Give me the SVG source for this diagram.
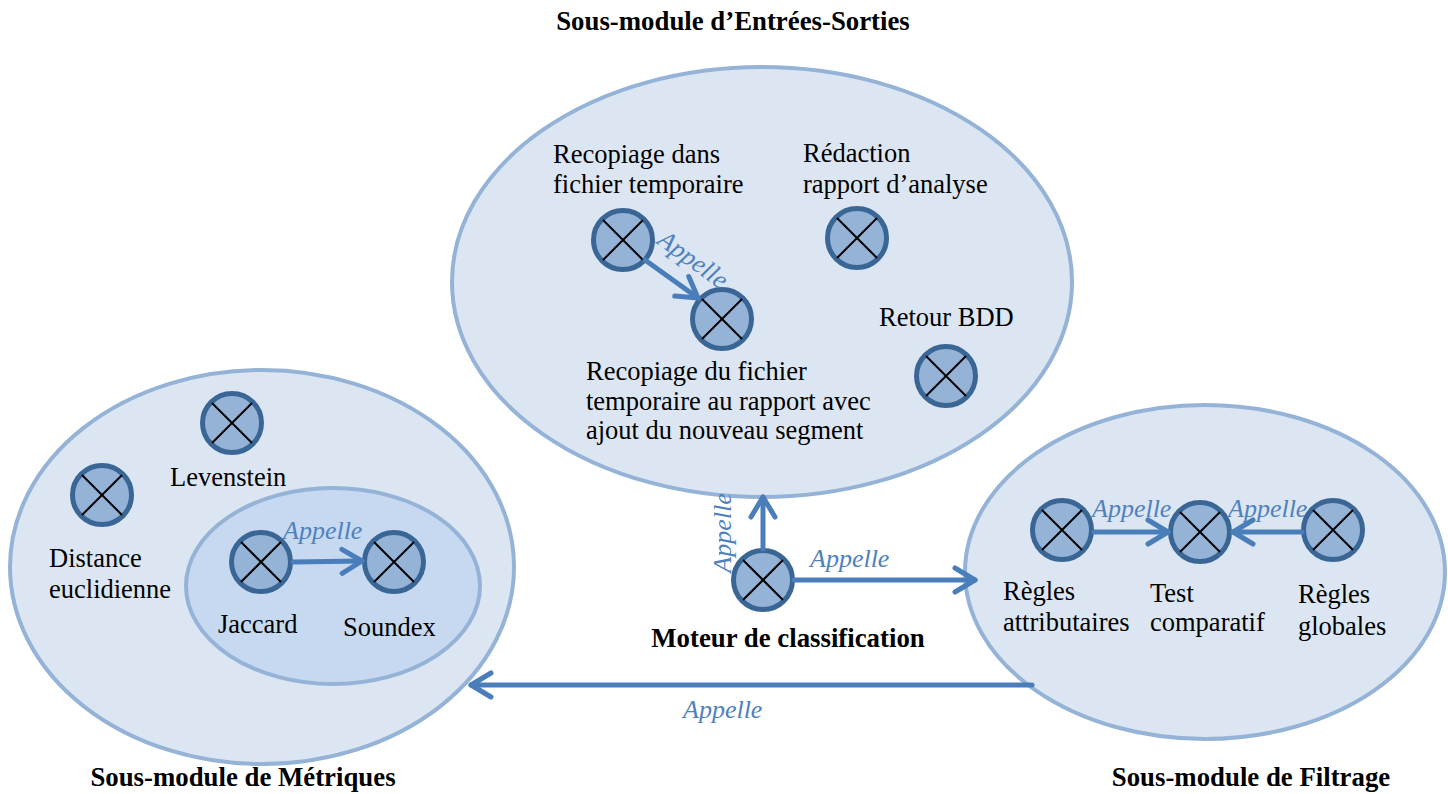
<svg xmlns="http://www.w3.org/2000/svg" width="1448" height="794" viewBox="0 0 1448 794">
<style>
.mod{fill:#DCE6F2;stroke:#95B3D7;stroke-width:4}
.inner{fill:#C6D9F1;stroke:#95B3D7;stroke-width:4}
.nd{fill:#95B3D7;stroke:#3A6695;stroke-width:5}
.x{stroke:#000;stroke-width:2}
.lbl{font-family:"Liberation Serif","Times New Roman",serif;font-size:26.5px;fill:#000}
.ttl{font-family:"Liberation Serif","Times New Roman",serif;font-size:26.8px;font-weight:bold;fill:#000}
.ap{font-family:"Liberation Serif","Times New Roman",serif;font-size:26px;font-style:italic;fill:#4F81BD}
.ar{stroke:#4A7EBB;stroke-width:5;fill:none;stroke-linecap:round}
</style>
<defs>
<marker id="ah" markerUnits="userSpaceOnUse" markerWidth="40" markerHeight="40" refX="0" refY="0" viewBox="-25 -20 40 40" orient="auto" overflow="visible">
<path d="M-20,-12 L0,0 L-20,12" fill="none" stroke="#4A7EBB" stroke-width="5" stroke-linecap="round" stroke-linejoin="round"/>
</marker>
<g id="cx"><line class="x" x1="-20" y1="-20" x2="20" y2="20"/><line class="x" x1="20" y1="-20" x2="-20" y2="20"/></g>
</defs>
<rect width="1448" height="794" fill="#fff"/>

<g id="module-es">
<ellipse class="mod" cx="762" cy="282" rx="310" ry="215"/>
<text class="ttl" x="733" y="30" text-anchor="middle">Sous-module d’Entrées-Sorties</text>
</g>
<g id="module-metriques">
<ellipse class="mod" cx="262" cy="567" rx="252" ry="197"/>
<ellipse class="inner" cx="333" cy="586" rx="147" ry="98"/>
<text class="ttl" x="243" y="786" text-anchor="middle">Sous-module de Métriques</text>
</g>
<g id="module-filtrage">
<ellipse class="mod" cx="1205" cy="572" rx="240" ry="167"/>
<text class="ttl" x="1251" y="786" text-anchor="middle">Sous-module de Filtrage</text>
</g>

<g id="n-recopiage1">
<circle class="nd" cx="623" cy="240" r="29.5"/><use href="#cx" x="623" y="240"/>
<text class="lbl" x="553" y="163">Recopiage dans</text>
<text class="lbl" x="553" y="193">fichier temporaire</text>
</g>
<g id="n-recopiage2">
<circle class="nd" cx="722" cy="319" r="29.5"/><use href="#cx" x="722" y="319"/>
<text class="lbl" x="586" y="380">Recopiage du fichier</text>
<text class="lbl" x="586" y="410">temporaire au rapport avec</text>
<text class="lbl" x="586" y="439">ajout du nouveau segment</text>
</g>
<g id="n-redaction">
<circle class="nd" cx="857" cy="238" r="29.5"/><use href="#cx" x="857" y="238"/>
<text class="lbl" x="803" y="162">Rédaction</text>
<text class="lbl" x="803" y="193">rapport d’analyse</text>
</g>
<g id="n-retour">
<circle class="nd" cx="946" cy="376" r="29.5"/><use href="#cx" x="946" y="376"/>
<text class="lbl" x="879" y="326">Retour BDD</text>
</g>
<g id="n-levenstein">
<circle class="nd" cx="232" cy="423" r="29.5"/><use href="#cx" x="232" y="423"/>
<text class="lbl" x="170" y="486">Levenstein</text>
</g>
<g id="n-distance">
<circle class="nd" cx="102" cy="495" r="29.5"/><use href="#cx" x="102" y="495"/>
<text class="lbl" x="49" y="567">Distance</text>
<text class="lbl" x="49" y="598">euclidienne</text>
</g>
<g id="n-jaccard">
<circle class="nd" cx="261" cy="562" r="29.5"/><use href="#cx" x="261" y="562"/>
<text class="lbl" x="218" y="633">Jaccard</text>
</g>
<g id="n-soundex">
<circle class="nd" cx="394" cy="562" r="29.5"/><use href="#cx" x="394" y="562"/>
<text class="lbl" x="343" y="636">Soundex</text>
</g>
<g id="n-moteur">
<circle class="nd" cx="763" cy="580" r="29.5"/><use href="#cx" x="763" y="580"/>
<text class="ttl" x="788" y="647" text-anchor="middle">Moteur de classification</text>
</g>
<g id="n-regles-attr">
<circle class="nd" cx="1062" cy="530" r="29.5"/><use href="#cx" x="1062" y="530"/>
<text class="lbl" x="1003" y="600">Règles</text>
<text class="lbl" x="1003" y="631">attributaires</text>
</g>
<g id="n-test">
<circle class="nd" cx="1200" cy="532" r="29.5"/><use href="#cx" x="1200" y="532"/>
<text class="lbl" x="1150" y="602">Test</text>
<text class="lbl" x="1150" y="631">comparatif</text>
</g>
<g id="n-regles-glob">
<circle class="nd" cx="1333" cy="530" r="29.5"/><use href="#cx" x="1333" y="530"/>
<text class="lbl" x="1298" y="603">Règles</text>
<text class="lbl" x="1298" y="635">globales</text>
</g>

<g id="connectors">
<line class="ar" x1="645" y1="260" x2="698" y2="298" marker-end="url(#ah)"/>
<text class="ap" transform="translate(656,243) rotate(36)">Appelle</text>
<line class="ar" x1="293" y1="562" x2="362" y2="561" marker-end="url(#ah)"/>
<text class="ap" x="283" y="539">Appelle</text>
<line class="ar" x1="763" y1="549" x2="763" y2="497" marker-end="url(#ah)"/>
<text class="ap" transform="translate(731,533) rotate(-90)" text-anchor="middle">Appelle</text>
<line class="ar" x1="794" y1="580" x2="975" y2="580" marker-end="url(#ah)"/>
<text class="ap" x="810" y="567">Appelle</text>
<line class="ar" x1="1094" y1="532" x2="1168" y2="532" marker-end="url(#ah)"/>
<text class="ap" x="1092" y="517">Appelle</text>
<line class="ar" x1="1302" y1="532" x2="1233" y2="532" marker-end="url(#ah)"/>
<text class="ap" x="1228" y="517">Appelle</text>
<line class="ar" x1="1032" y1="685" x2="471" y2="685" marker-end="url(#ah)" stroke-linecap="butt"/>
<text class="ap" x="683" y="718">Appelle</text>
</g>
</svg>
